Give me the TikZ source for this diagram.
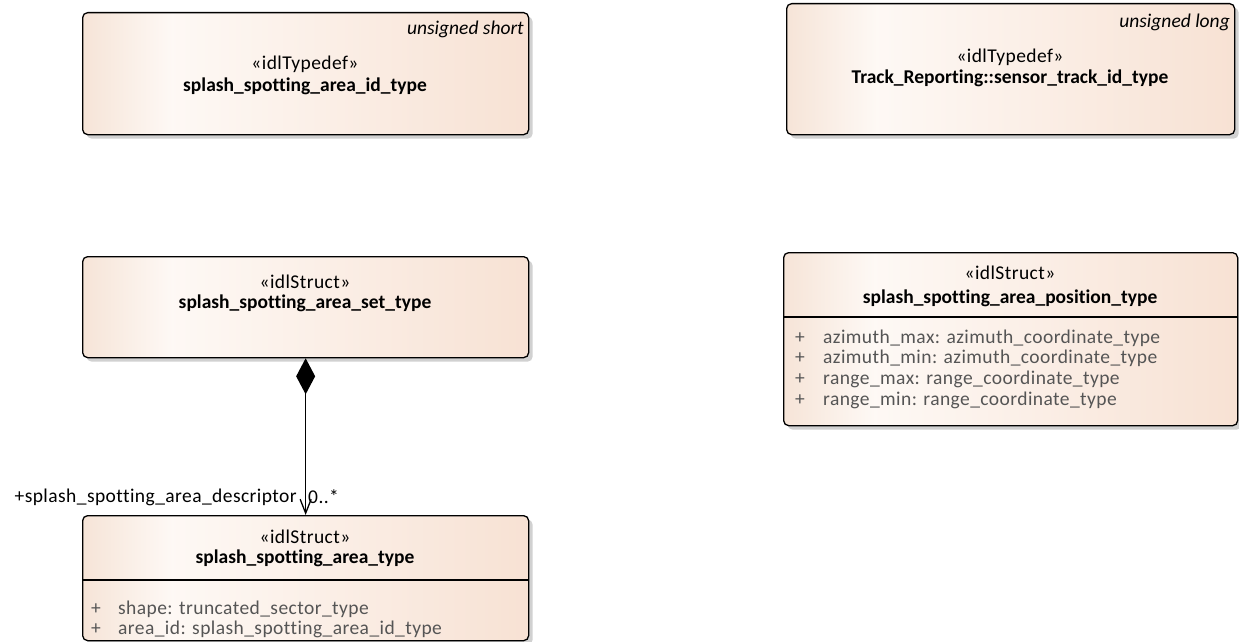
\documentclass[tikz,border=0pt]{standalone}
\usepackage{fontspec}
\setmainfont{Carlito}[Ligatures=NoCommon, UprightFeatures={LetterSpace=2.2}]
\usetikzlibrary{arrows.meta,shadows}
\pgfdeclarehorizontalshading{eashade}{100bp}{rgb(0bp)=(0.965,0.895,0.845); rgb(25bp)=(0.965,0.895,0.845); rgb(35bp)=(0.995,0.975,0.96); rgb(75bp)=(0.97,0.885,0.83); rgb(100bp)=(0.97,0.885,0.83)}
\definecolor{attrgray}{RGB}{85,85,85}
\tikzset{
  umlbox/.style={draw=black, line width=1.3pt, rounded corners=5pt, shading=eashade,
    anchor=north west, inner sep=0pt,
    drop shadow={shadow xshift=4pt, shadow yshift=-4pt, fill=black, opacity=0.18}},
  sep/.style={draw=black, line width=1.1pt},
  stereo/.style={font=\fontsize{19.5}{22}\selectfont, inner sep=0pt},
  cname/.style={font=\fontsize{19.5}{22}\selectfont\bfseries, inner sep=0pt},
  tag/.style={font=\fontsize{19.5}{22}\selectfont\itshape, inner sep=0pt, anchor=east},
  attr/.style={font=\fontsize{19.5}{22}\selectfont, text=attrgray, inner sep=0pt, anchor=west},
  plus/.style={font=\fontsize{19.5}{22}\selectfont, text=attrgray, inner sep=0pt},
  role/.style={font=\fontsize{19.5}{22}\selectfont, inner sep=0pt},
  assoc/.style={draw=black, line width=1.3pt,
    {Diamond[length=36pt,width=19pt,fill=black]}-{Straight Barb[length=14pt,width=11pt,line width=1.3pt]}}
}
\begin{document}
\begin{tikzpicture}[x=1pt,y=-1pt]
\useasboundingbox (0,0) rectangle (1239,642);
% Box 1
\node[umlbox, minimum width=446pt, minimum height=122pt] (b1) at (82,12) {};
\node[tag] (b1t) at (524,29) {unsigned short};
\node[stereo] (b1s) at (305,64) {«idlTypedef»};
\node[cname] (b1n) at (305,86) {splash\_spotting\_area\_id\_type};
% Box 2
\node[umlbox, minimum width=448pt, minimum height=131pt] (b2) at (786,3) {};
\node[tag] (b2t) at (1230,22) {unsigned long};
\node[stereo] (b2s) at (1010,57) {«idlTypedef»};
\node[cname] (b2n) at (1010,78) {Track\_Reporting::sensor\_track\_id\_type};
% Box 3
\node[umlbox, minimum width=446pt, minimum height=101pt] (b3) at (82,256) {};
\node[stereo] (b3s) at (305,282) {«idlStruct»};
\node[cname] (b3n) at (305,303) {splash\_spotting\_area\_set\_type};
% Box 4
\node[umlbox, minimum width=454pt, minimum height=173pt] (b4) at (783,252) {};
\draw[sep] (783,317) -- (1237,317);
\node[stereo] (b4s) at (1010,273) {«idlStruct»};
\node[cname] (b4n) at (1010,298) {splash\_spotting\_area\_position\_type};
\node[plus] (b4p1) at (800,338) {+};
\node[attr] (b4a1) at (823,338) {azimuth\_max: azimuth\_coordinate\_type};
\node[plus] (b4p2) at (800,358) {+};
\node[attr] (b4a2) at (823,358) {azimuth\_min: azimuth\_coordinate\_type};
\node[plus] (b4p3) at (800,379) {+};
\node[attr] (b4a3) at (823,379) {range\_max: range\_coordinate\_type};
\node[plus] (b4p4) at (800,400) {+};
\node[attr] (b4a4) at (823,400) {range\_min: range\_coordinate\_type};
% Box 5
\node[umlbox, minimum width=446pt, minimum height=125pt] (b5) at (82,515) {};
\draw[sep] (82,580) -- (528,580);
\node[stereo] (b5s) at (305,537) {«idlStruct»};
\node[cname] (b5n) at (305,558) {splash\_spotting\_area\_type};
\node[plus] (b5p1) at (96,609) {+};
\node[attr] (b5a1) at (118,609) {shape: truncated\_sector\_type};
\node[plus] (b5p2) at (96,629) {+};
\node[attr] (b5a2) at (118,629) {area\_id: splash\_spotting\_area\_id\_type};
% Association
\draw[assoc] (b3.south) -- (b5.north);
\node[role, anchor=east] (r1) at (297,497) {+splash\_spotting\_area\_descriptor};
\node[role, anchor=west] (r2) at (308,497) {0..*};
\end{tikzpicture}
\end{document}
